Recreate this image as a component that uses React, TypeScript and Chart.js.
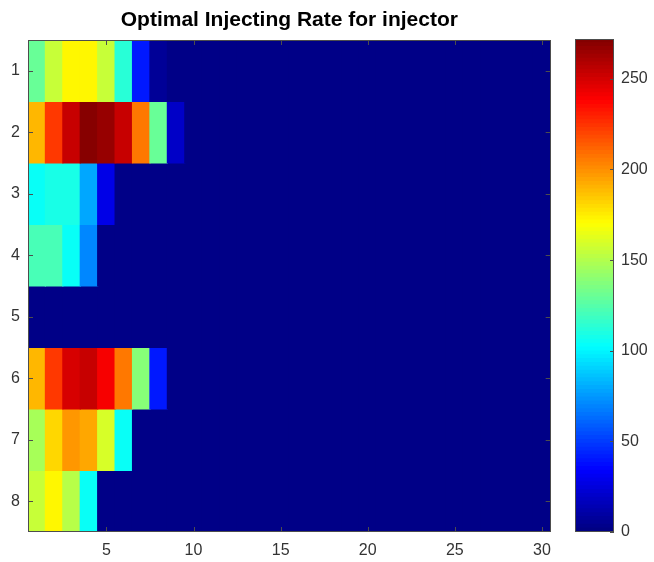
import React, { useEffect, useRef } from "react";
import { Chart, registerables } from "chart.js";

Chart.register(...registerables);

const title = "Optimal Injecting Rate for injector";
const rowLabels = ["1", "2", "3", "4", "5", "6", "7", "8"];
const columnCount = 30;
const xTickLabels = ["5", "10", "15", "20", "25", "30"];
const colorbarTicks = [0, 50, 100, 150, 200, 250];
const colorMin = 0;
const colorMax = 272;

// Non-zero leading cells for each row (remaining columns are 0)
const row1 = [129, 156, 170, 170, 153, 114, 41, 5];
const row2 = [190, 224, 252, 270, 266, 252, 207, 129, 20];
const row3 = [104, 108, 108, 78, 27];
const row4 = [122, 122, 104, 68];
const row5: number[] = [];
const row6 = [190, 221, 248, 252, 238, 204, 139, 41];
const row7 = [146, 180, 197, 194, 160, 102];
const row8 = [156, 170, 150, 102];

const rows = [row1, row2, row3, row4, row5, row6, row7, row8];

const clamp = (v: number) => Math.max(0, Math.min(1, v));
function jet(t: number): string {
  const r = clamp(1.5 - Math.abs(4 * t - 3));
  const g = clamp(1.5 - Math.abs(4 * t - 2));
  const b = clamp(1.5 - Math.abs(4 * t - 1));
  return `rgb(${Math.round(r * 255)},${Math.round(g * 255)},${Math.round(b * 255)})`;
}
const LEVELS = 64;
const BAR_LEVELS = 128;
function colorFor(v: number): string {
  let idx = Math.floor(((v - colorMin) / (colorMax - colorMin)) * LEVELS);
  idx = Math.max(0, Math.min(LEVELS - 1, idx));
  return jet((idx + 0.5) / LEVELS);
}

const TEXT = "#333333";
const AXIS = "#4d4d4d";
const FONT = "'Liberation Sans', Arial, sans-serif";

const boxPlugin = {
  id: "box",
  afterDatasetsDraw(chart: any, _args: any, opts: any) {
    const { ctx, chartArea } = chart;
    const { left, right, top, bottom } = chartArea;
    ctx.save();
    ctx.strokeStyle = AXIS;
    ctx.lineWidth = 1;
    ctx.beginPath();
    if (opts.xTicks) {
      const xs = chart.scales.x;
      xs.ticks.forEach((t: any, i: number) => {
        if (!t.label) return;
        const px = Math.round(xs.getPixelForTick(i)) + 0.5;
        ctx.moveTo(px, bottom);
        ctx.lineTo(px, bottom - 5);
        ctx.moveTo(px, top);
        ctx.lineTo(px, top + 5);
      });
    }
    const ys = chart.scales.y;
    ys.ticks.forEach((_t: any, i: number) => {
      const py = Math.round(ys.getPixelForTick(i)) + 0.5;
      if (opts.yLeft) {
        ctx.moveTo(left, py);
        ctx.lineTo(left + 5, py);
        ctx.moveTo(right, py);
        ctx.lineTo(right - 5, py);
      } else {
        ctx.moveTo(right, py);
        ctx.lineTo(right - 4, py);
      }
    });
    ctx.stroke();
    ctx.strokeRect(Math.round(left) + 0.5, Math.round(top) + 0.5, Math.round(right - left) - 1, Math.round(bottom - top) - 1);
    if (opts.title) {
      ctx.fillStyle = "#000";
      ctx.font = `bold 21px ${FONT}`;
      ctx.textAlign = "center";
      ctx.textBaseline = "middle";
      ctx.fillText(opts.title, (left + right) / 2, 20);
    }
    ctx.restore();
  },
};

export default function App() {
  const mainRef = useRef<HTMLCanvasElement>(null);
  const barRef = useRef<HTMLCanvasElement>(null);

  useEffect(() => {
    const columns = Array.from({ length: columnCount }, (_, i) => String(i + 1));
    const datasets = rows.map((row, r) => {
      const values = columns.map((_, c) => (c < row.length ? row[c] : 0));
      return {
        label: rowLabels[r],
        data: columns.map(() => [r + 0.5, r + 1.5]),
        backgroundColor: values.map(colorFor),
        borderWidth: 0,
        inflateAmount: 0.6,
        barPercentage: 1,
        categoryPercentage: 1,
        grouped: false,
      };
    });

    const main = new Chart(mainRef.current!, {
      type: "bar",
      data: { labels: columns, datasets: datasets as any },
      options: {
        animation: false,
        responsive: false,
        maintainAspectRatio: false,
        layout: { padding: { left: 0, right: 7, top: 40, bottom: 0 } },
        plugins: {
          legend: { display: false },
          tooltip: { enabled: false },
          title: { display: false },
          box: { xTicks: true, yLeft: true, title },
        } as any,
        scales: {
          x: {
            type: "category",
            offset: true,
            grid: { display: false, drawTicks: false },
            border: { display: false },
            ticks: {
              autoSkip: false,
              maxRotation: 0,
              color: TEXT,
              font: { family: FONT, size: 16 },
              padding: 9,
              callback: (_v: any, i: number) => {
                const l = String(i + 1);
                return xTickLabels.includes(l) ? l : "";
              },
            },
            afterFit: (s: any) => {
              s.height = 30;
            },
          },
          y: {
            type: "linear",
            reverse: true,
            min: 0.5,
            max: 8.5,
            grid: { display: false, drawTicks: false },
            border: { display: false },
            ticks: {
              color: TEXT,
              font: { family: FONT, size: 16 },
              padding: 8,
              callback: (v: any) => String(v),
            },
            afterBuildTicks: (s: any) => {
              s.ticks = rowLabels.map((l) => ({ value: Number(l) }));
            },
            afterFit: (s: any) => {
              s.width = 28;
            },
          },
        },
      },
      plugins: [boxPlugin],
    });

    const barDatasets = Array.from({ length: BAR_LEVELS }, (_, i) => {
      const lo = colorMin + ((colorMax - colorMin) * i) / BAR_LEVELS;
      const hi = colorMin + ((colorMax - colorMin) * (i + 1)) / BAR_LEVELS;
      return {
        label: String(i),
        data: [[lo, hi]],
        backgroundColor: jet((i + 0.5) / BAR_LEVELS),
        borderWidth: 0,
        inflateAmount: 0.6,
        barPercentage: 1,
        categoryPercentage: 1,
        grouped: false,
      };
    });

    const bar = new Chart(barRef.current!, {
      type: "bar",
      data: { labels: ["c"], datasets: barDatasets as any },
      options: {
        animation: false,
        responsive: false,
        maintainAspectRatio: false,
        layout: { padding: { left: 15, right: 0, top: 39, bottom: 30 } },
        plugins: {
          legend: { display: false },
          tooltip: { enabled: false },
          box: { xTicks: false, yLeft: false },
        } as any,
        scales: {
          x: { display: false },
          y: {
            type: "linear",
            position: "right",
            min: colorMin,
            max: colorMax,
            grid: { display: false, drawTicks: false },
            border: { display: false },
            ticks: {
              color: TEXT,
              font: { family: FONT, size: 16 },
              padding: 7,
            },
            afterBuildTicks: (s: any) => {
              s.ticks = colorbarTicks.map((v) => ({ value: v }));
            },
            afterFit: (s: any) => {
              s.width = 40;
            },
          },
        },
      },
      plugins: [boxPlugin],
    });

    return () => {
      main.destroy();
      bar.destroy();
    };
  }, []);

  return (
    <div style={{ position: "absolute", left: 0, top: 0, width: 654, height: 562, background: "#fff" }}>
      <canvas ref={mainRef} width={560} height={562} style={{ position: "absolute", left: 0, top: 0 }} />
      <canvas ref={barRef} width={94} height={562} style={{ position: "absolute", left: 560, top: 0 }} />
    </div>
  );
}
